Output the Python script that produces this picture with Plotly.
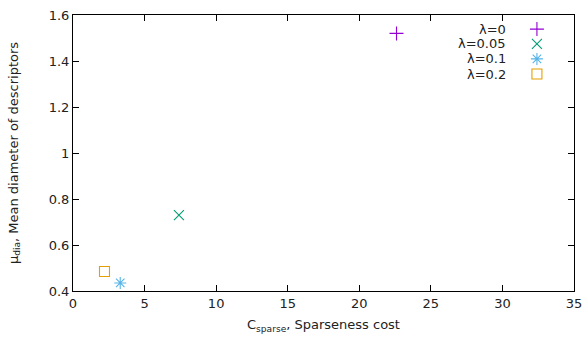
import plotly.graph_objects as go

labels = ["λ=0", "λ=0.05", "λ=0.1", "λ=0.2"]
sparse_cost = [22.6, 7.4, 3.3, 2.2]
mean_diam = [1.52, 0.73, 0.435, 0.485]
colors = ["#9400d3", "#009e73", "#56b4e9", "#e69f00"]
symbols = ["cross-thin-open", "x-thin-open", "asterisk-open", "square-open"]
sizes = [10, 10, 10, 10]

FONT = "DejaVu Sans"
FS = 13
TXT = "#222"
fig = go.Figure()

for i in range(len(labels)):
    fig.add_trace(go.Scatter(
        x=[sparse_cost[i]], y=[mean_diam[i]], mode="markers", name=labels[i],
        marker=dict(symbol=symbols[i], size=sizes[i], color=colors[i],
                    line=dict(width=1.1, color=colors[i])),
        showlegend=False))

# custom gnuplot-style key (text left, sample right)
key_x = 0.926
key_text_x = 0.868
key_rows = [0.949, 0.895, 0.841, 0.786]
for i in range(len(labels)):
    fig.add_trace(go.Scatter(
        x=[key_x], y=[key_rows[i]], xaxis="x2", yaxis="y2", mode="markers",
        marker=dict(symbol=symbols[i], size=sizes[i], color=colors[i],
                    line=dict(width=1.1, color=colors[i])),
        showlegend=False, hoverinfo="skip"))
    fig.add_annotation(x=key_text_x, y=key_rows[i], xref="paper", yref="paper",
                       text=labels[i], showarrow=False, xanchor="right", yanchor="middle",
                       font=dict(family=FONT, size=FS, color=TXT))

axis_common = dict(showline=True, linecolor="black", linewidth=1, mirror="ticks",
                   ticks="inside", ticklen=6, tickcolor="black", showgrid=False,
                   zeroline=False, automargin=False,
                   tickfont=dict(family=FONT, size=FS, color=TXT))

fig.update_layout(
    width=584, height=339,
    margin=dict(l=73, r=10, t=15, b=48, autoexpand=False),
    plot_bgcolor="white", paper_bgcolor="white",
    font=dict(family=FONT, size=FS, color=TXT),
    xaxis=dict(range=[0, 35], dtick=5, tick0=0,
               title=dict(text="C<sub>sparse</sub>, Sparseness cost", standoff=10,
                          font=dict(family=FONT, size=FS, color=TXT)),
               **axis_common),
    yaxis=dict(range=[0.4, 1.6], dtick=0.2, tick0=0.4,
               title=dict(text="μ<sub>dia</sub>, Mean diameter of descriptors", standoff=27,
                          font=dict(family=FONT, size=FS, color=TXT)),
               **axis_common),
    xaxis2=dict(range=[0, 1], overlaying="x", visible=False, domain=[0, 1]),
    yaxis2=dict(range=[0, 1], overlaying="y", visible=False),
)

fig.write_html("out.html", config={"displayModeBar": False},
               post_script="document.body.style.margin='0';document.body.style.overflow='hidden';")
